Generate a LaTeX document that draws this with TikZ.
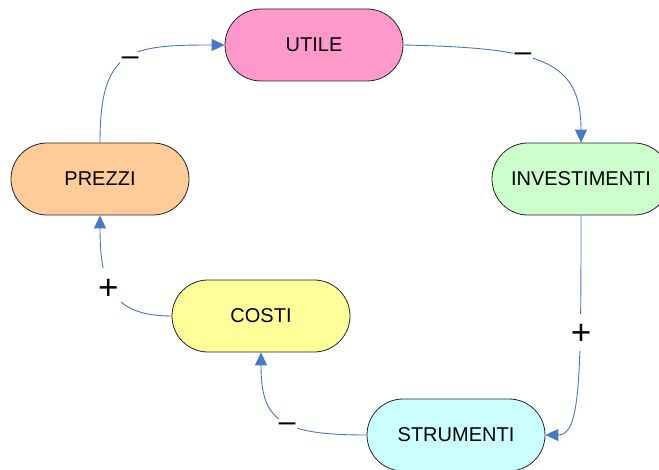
\documentclass[tikz,border=0pt]{standalone}
\usepackage{fontspec}
\setmainfont{Liberation Sans}
\usetikzlibrary{arrows.meta}
\definecolor{linkblue}{RGB}{70,120,200}
\definecolor{cpink}{RGB}{255,153,204}
\definecolor{cgreen}{RGB}{204,255,204}
\definecolor{ccyan}{RGB}{204,255,255}
\definecolor{cyellow}{RGB}{255,255,153}
\definecolor{corange}{RGB}{255,204,153}
\begin{document}
\begin{tikzpicture}[x=1pt,y=-1pt,
  concept/.style={draw=black!85, line width=0.8pt, rounded corners=36pt,
    minimum width=178pt, minimum height=72pt, inner sep=0pt,
    font=\fontsize{20}{24}\selectfont},
  link/.style={draw=linkblue, line width=0.9pt, -{Triangle[length=13pt,width=12pt]}},
  minuslab/.style={fill=white, inner xsep=1.5pt, inner ysep=1.5pt,
    text height=11.5pt, text depth=-4.5pt,
    font=\fontsize{30}{30}\selectfont},
  pluslab/.style={fill=white, inner sep=2pt, text height=28.75pt, text depth=4.25pt,
    font=\fontsize{35}{35}\selectfont}]
\useasboundingbox (0,0) rectangle (659,470);
\clip (0,0) rectangle (659,470);
\fill[white] (0,0) rectangle (659,470);

\node[concept, fill=cpink]   (UTILE) at (314,45)  {UTILE};
\node[concept, fill=cgreen]  (INV)   at (581,179) {INVESTIMENTI};
\node[concept, fill=ccyan]   (STR)   at (456,435) {STRUMENTI};
\node[concept, fill=cyellow] (COSTI) at (261,316) {COSTI};
\node[concept, fill=corange] (PREZZI) at (100,179) {PREZZI};

\draw[link] (UTILE.east) .. controls +(137,3) and +(0,-83) .. (INV.north)
  node[pos=0.39, minuslab] {–};
\draw[link] (INV.south) .. controls +(0,165) and +(35,0) .. (STR.east)
  node[pos=0.29, xshift=1pt, pluslab] {+};
\draw[link] (STR.west) .. controls +(-87,0) and +(0,68) .. (COSTI.south)
  node[pos=0.44, yshift=-3pt, minuslab] {–};
\draw[link] (COSTI.west) .. controls +(-60,0) and +(0,70) .. (PREZZI.south)
  node[pos=0.55, xshift=-2pt, pluslab] {+};
\draw[link] (PREZZI.north) .. controls +(0,-94) and +(-95,0) .. (UTILE.west)
  node[pos=0.53, yshift=-3pt, minuslab] {–};
\end{tikzpicture}
\end{document}
